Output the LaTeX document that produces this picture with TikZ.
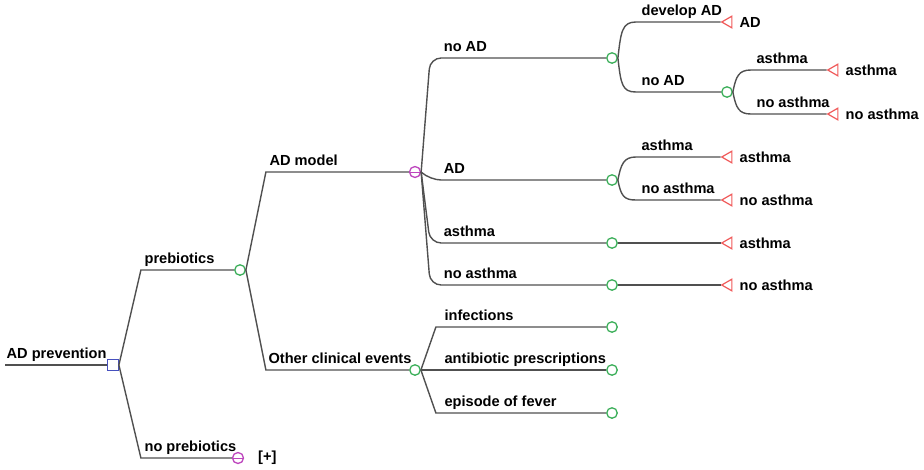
\documentclass[tikz,border=0pt]{standalone}
\usepackage{fontspec}
\setmainfont{Liberation Sans}
\usetikzlibrary{shapes.geometric}
\definecolor{linegray}{RGB}{80,80,80}
\definecolor{decblue}{RGB}{70,80,190}
\definecolor{chancegreen}{RGB}{60,175,90}
\definecolor{markovpurple}{RGB}{190,70,190}
\definecolor{termred}{RGB}{240,90,90}
\tikzset{
  branch/.style={draw=linegray,line width=1.4pt},
  decision/.style={rectangle,draw=decblue,fill=white,line width=1.3pt,minimum size=10.5pt,inner sep=0pt},
  chance/.style={circle,draw=chancegreen,fill=white,line width=1.3pt,minimum size=10.5pt,inner sep=0pt},
  markov/.style={circle,draw=markovpurple,fill=white,line width=1.3pt,minimum size=11pt,inner sep=0pt,
    path picture={\draw[markovpurple,line width=1pt] (path picture bounding box.west) -- (path picture bounding box.east);}},
  terminal/.style={regular polygon,regular polygon sides=3,shape border rotate=90,draw=termred,fill=white,
    line width=1.2pt,minimum size=13.5pt,inner sep=0pt},
  blabel/.style={anchor=base west,inner sep=0pt,xshift=#1,yshift=6.5pt},
  blabel/.default=6pt,
  tlabel/.style={inner sep=1pt,label distance=6pt}
}
\begin{document}
\begin{tikzpicture}[x=1pt,y=-1pt,font=\bfseries\fontsize{14.6}{17}\selectfont]
  \useasboundingbox (0,0) rectangle (924,469);
  % nodes
  \coordinate (root) at (5,365);
  \node[decision] (dec) at (113,365) {};
  \node[chance] (pre) at (240,270) {};
  \node[markov] (nopre) at (238,458) {};
  \node[anchor=west,inner sep=0pt] (plus) at (258,458) {[+]};
  \node[markov] (admod) at (415,172) {};
  \node[chance] (other) at (415,370) {};
  \node[chance] (noad) at (612,58) {};
  \node[chance] (adc) at (612,180) {};
  \node[chance] (asth) at (612,243) {};
  \node[chance] (noasth) at (612,285) {};
  \node[chance] (inf) at (612,327) {};
  \node[chance] (abx) at (612,370) {};
  \node[chance] (fever) at (612,413) {};
  \node[chance] (noad2) at (727,92) {};
  \node[terminal,label={[tlabel]right:AD}] (tdev) at (728.5,22) {};
  \node[terminal,label={[tlabel]right:asthma}] (ta1) at (834.5,70) {};
  \node[terminal,label={[tlabel]right:no asthma}] (tna1) at (834.5,114) {};
  \node[terminal,label={[tlabel]right:asthma}] (ta2) at (728.5,157) {};
  \node[terminal,label={[tlabel]right:no asthma}] (tna2) at (728.5,200) {};
  \node[terminal,label={[tlabel]right:asthma}] (ta3) at (728.5,243) {};
  \node[terminal,label={[tlabel]right:no asthma}] (tna3) at (728.5,285) {};
  % root and decision
  \draw[branch] (root) node[blabel=1pt] {AD prevention} -- (dec);
  \draw[branch] (dec.east) -- ([xshift=22pt]dec.east |- pre.west) node[blabel=3pt] {prebiotics} -- (pre);
  \draw[branch] (dec.east) -- ([xshift=22pt]dec.east |- nopre.west) node[blabel=3pt] {no prebiotics} -- (nopre);
  % prebiotics
  \draw[branch] (pre.east) -- ([xshift=20pt]pre.east |- admod.west) node[blabel=3pt] {AD model} -- (admod);
  \draw[branch] (pre.east) -- ([xshift=20pt]pre.east |- other.west) node[blabel=2pt] {Other clinical events} -- (other);
  % AD model (markov)
  \begin{scope}[rounded corners=11pt]
    \draw[branch] (admod.east) -- ([xshift=9pt]admod.east |- noad.west) node[blabel=13pt] {no AD} -- (noad);
    \draw[branch] (admod.east) -- ([xshift=9pt]admod.east |- adc.west) node[blabel=13pt] {AD} -- (adc);
    \draw[branch] (admod.east) -- ([xshift=9pt]admod.east |- asth.west) node[blabel=13pt] {asthma} -- (asth);
    \draw[branch] (admod.east) -- ([xshift=9pt]admod.east |- noasth.west) node[blabel=13pt] {no asthma} -- (noasth);
  \end{scope}
  % other clinical events
  \draw[branch] (other.east) -- ([xshift=15pt]other.east |- inf.west) node[blabel=8pt] {infections} -- (inf);
  \draw[branch] (other.east) -- ([xshift=15pt]other.east |- abx.west) node[blabel=8pt] {antibiotic prescriptions} -- (abx);
  \draw[branch] (other.east) -- ([xshift=15pt]other.east |- fever.west) node[blabel=8pt] {episode of fever} -- (fever);
  % no AD
  \draw[branch] (noad.east) .. controls +(3,-26) and +(-14,0) .. ([xshift=18pt]noad.east |- tdev.west) node[blabel=5pt] {develop AD} -- (tdev);
  \draw[branch] (noad.east) .. controls +(3,26) and +(-14,0) .. ([xshift=18pt]noad.east |- noad2.west) node[blabel=5pt] {no AD} -- (noad2);
  \draw[branch] (noad2.east) .. controls +(3,-16) and +(-12,0) .. ([xshift=18pt]noad2.east |- ta1.west) node[blabel=5pt] {asthma} -- (ta1);
  \draw[branch] (noad2.east) .. controls +(3,16) and +(-12,0) .. ([xshift=18pt]noad2.east |- tna1.west) node[blabel=5pt] {no asthma} -- (tna1);
  % AD
  \draw[branch] (adc.east) .. controls +(3,-16) and +(-12,0) .. ([xshift=18pt]adc.east |- ta2.west) node[blabel=5pt] {asthma} -- (ta2);
  \draw[branch] (adc.east) .. controls +(3,16) and +(-12,0) .. ([xshift=18pt]adc.east |- tna2.west) node[blabel=5pt] {no asthma} -- (tna2);
  % asthma, no asthma
  \draw[branch] (asth) -- (ta3);
  \draw[branch] (noasth) -- (tna3);
\end{tikzpicture}
\end{document}
